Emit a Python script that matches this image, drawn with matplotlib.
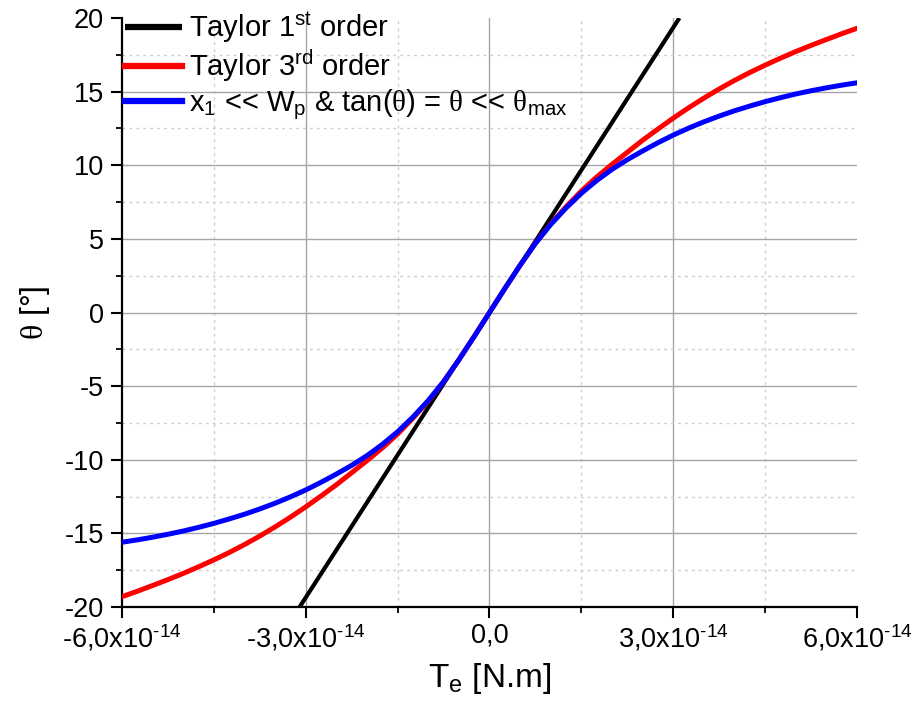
import numpy as np
import matplotlib
matplotlib.use("Agg")
import matplotlib.pyplot as plt
from matplotlib.ticker import MultipleLocator, FuncFormatter

plt.rcParams['font.family'] = ['Liberation Sans', 'DejaVu Sans']
plt.rcParams['mathtext.fontset'] = 'custom'
plt.rcParams['mathtext.rm'] = 'Liberation Sans'
plt.rcParams['mathtext.it'] = 'Liberation Sans:italic'
plt.rcParams['mathtext.sf'] = 'Liberation Serif'
plt.rcParams['axes.unicode_minus'] = False

# ---- data (torque in units of 1e-14 N.m, angle in degrees) ----
torque_e14 = [-6, -5.75, -5.5, -5.25, -5, -4.75, -4.5, -4.25, -4, -3.75, -3.5, -3.25,
              -3, -2.75, -2.5, -2.25, -2, -1.75, -1.5, -1.25, -1, -0.75, -0.5, -0.25,
              0, 0.25, 0.5, 0.75, 1, 1.25, 1.5, 1.75, 2, 2.25, 2.5, 2.75,
              3, 3.25, 3.5, 3.75, 4, 4.25, 4.5, 4.75, 5, 5.25, 5.5, 5.75, 6]
theta_taylor3 = [-19.3, -18.93, -18.54, -18.14, -17.72, -17.27, -16.8, -16.3, -15.76, -15.18, -14.56, -13.9,
                 -13.2, -12.46, -11.7, -10.88, -10.06, -9.2, -8.25, -7.18, -6.02, -4.7, -3.21, -1.63,
                 0, 1.63, 3.21, 4.7, 6.02, 7.18, 8.25, 9.2, 10.06, 10.88, 11.7, 12.46,
                 13.2, 13.9, 14.56, 15.18, 15.76, 16.3, 16.8, 17.27, 17.72, 18.14, 18.54, 18.93, 19.3]
theta_full = [-15.6, -15.44, -15.26, -15.06, -14.84, -14.59, -14.32, -14.02, -13.7, -13.34, -12.95, -12.52,
              -12.05, -11.53, -10.97, -10.38, -9.72, -8.96, -8.1, -7.1, -5.98, -4.7, -3.21, -1.63,
              0, 1.63, 3.21, 4.7, 5.98, 7.1, 8.1, 8.96, 9.72, 10.38, 10.97, 11.53,
              12.05, 12.52, 12.95, 13.34, 13.7, 14.02, 14.32, 14.59, 14.84, 15.06, 15.26, 15.44, 15.6]
torque_lin_e14 = [-3.1, 3.1]
theta_taylor1 = [-20, 20]

labels = ['Taylor 1$^{\\mathrm{st}}$ order',
          'Taylor 3$^{\\mathrm{rd}}$ order',
          'x$_{\\mathrm{1}}$ << W$_{\\mathrm{p}}$ & tan($\\mathsf{θ}$) = $\\mathsf{θ}$ << $\\mathsf{θ}_{\\mathrm{max}}$']

T = np.array(torque_e14) * 1e-14
T_lin = np.array(torque_lin_e14) * 1e-14

fig = plt.figure(figsize=(9.17, 7.06), dpi=100)
ax = fig.add_axes([0.133, 0.1402, 0.8016, 0.8343])

ax.plot(T_lin, theta_taylor1, color='black', lw=3.0, label=labels[0], zorder=3, solid_capstyle='butt')
ax.plot(T, theta_taylor3, color='#ff0000', lw=3.6, label=labels[1], zorder=4)
ax.plot(T, theta_full, color='#0000ff', lw=3.6, label=labels[2], zorder=5)

ax.set_xlim(-6e-14, 6e-14)
ax.set_ylim(-20, 20)
ax.xaxis.set_major_locator(MultipleLocator(3e-14))
ax.xaxis.set_minor_locator(MultipleLocator(1.5e-14))
ax.yaxis.set_major_locator(MultipleLocator(5))
ax.yaxis.set_minor_locator(MultipleLocator(2.5))

def xfmt(v, pos):
    m = v / 1e-14
    if abs(m) < 1e-9:
        return '0,0'
    s = ('%.1f' % m).replace('.', ',')
    return s + 'x10$^{\\text{-14}}$'
ax.xaxis.set_major_formatter(FuncFormatter(xfmt))

for s in ['top', 'right']:
    ax.spines[s].set_visible(False)
for s in ['left', 'bottom']:
    ax.spines[s].set_linewidth(1.6)

ax.tick_params(which='major', direction='out', length=8, width=1.5, labelsize=19.5)
ax.tick_params(axis='y', which='major', pad=5)
ax.tick_params(axis='x', which='major', pad=3)
ax.tick_params(which='minor', direction='out', length=4, width=1.3)

ax.grid(which='major', color='#a6a6a6', lw=1.0, ls='-')
ax.grid(which='minor', color='#cccccc', lw=1.0, ls=(0, (2, 3)))
ax.set_axisbelow(True)
fig.canvas.draw()
for gl, loc in zip(ax.xaxis.get_gridlines(), ax.xaxis.get_majorticklocs()):
    if abs(loc) > 5.9e-14:
        gl.set_visible(False)
for gl, loc in zip(ax.yaxis.get_gridlines(), ax.yaxis.get_majorticklocs()):
    if abs(loc) > 19.9:
        gl.set_visible(False)

ax.set_xlabel('T$_{\\mathrm{e}}$ [N.m]', fontsize=24, labelpad=6)
ax.set_ylabel('$\\mathsf{θ}$ [°]', fontsize=23, labelpad=9)

leg = ax.legend(loc='upper left', bbox_to_anchor=(0.004, 1.014), frameon=False, fontsize=21,
                handlelength=1.95, handletextpad=0.25, labelspacing=0.1, borderaxespad=0.0,
                borderpad=0.0)
for h in leg.get_lines():
    h.set_linewidth(4.5)

fig.savefig('out.png', dpi=100)
